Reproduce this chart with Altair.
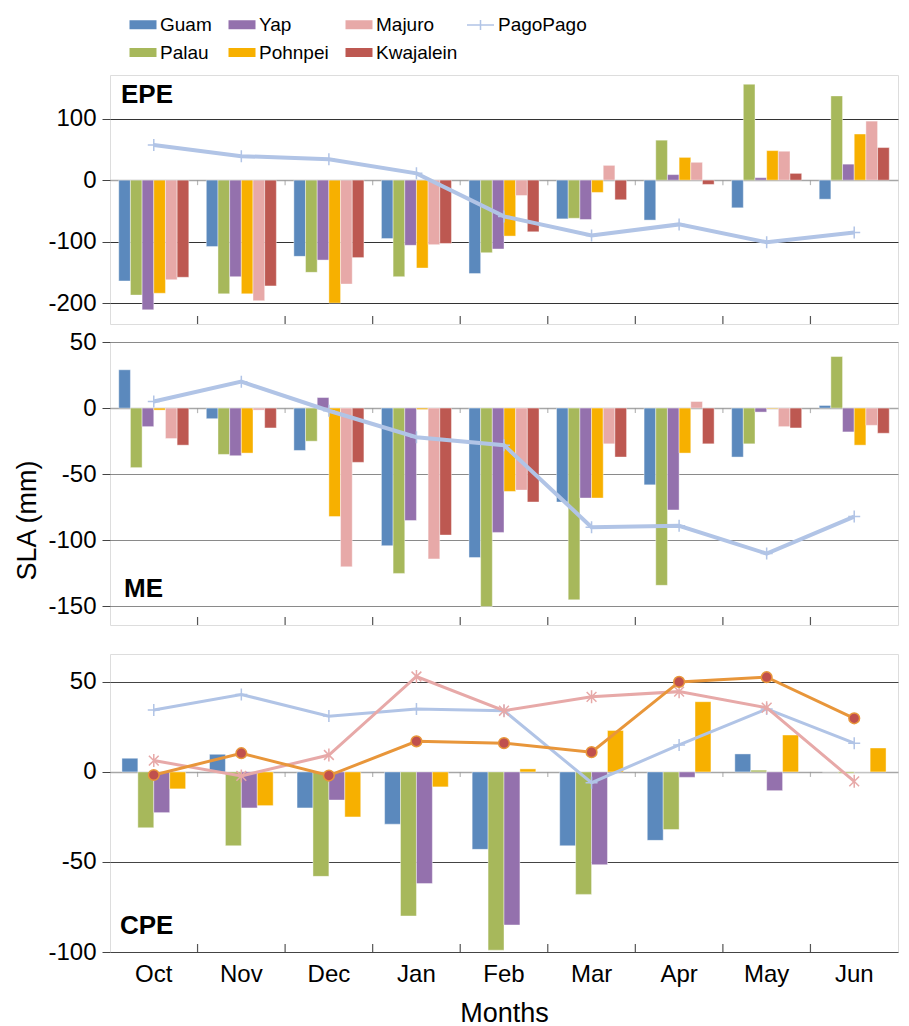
import altair as alt
import pandas as pd

months = ["Oct", "Nov", "Dec", "Jan", "Feb", "Mar", "Apr", "May", "Jun"]

# ---- EPE ----
guam_epe = [-164, -108, -124, -95, -152, -63, -65, -45, -31]
palau_epe = [-187, -185, -150, -157, -118, -62, 65, 156, 137]
yap_epe = [-211, -157, -130, -106, -112, -64, 9, 4, 26]
pohnpei_epe = [-184, -185, -200, -143, -91, -20, 37, 48, 75]
majuro_epe = [-162, -196, -169, -105, -25, 24, 29, 47, 96]
kwaj_epe = [-158, -172, -126, -103, -84, -32, -7, 11, 53]
pago_epe = [57, 39, 34, 11, -59, -90, -72, -101, -85]

# ---- ME ----
guam_me = [29, -8, -32, -104, -113, -71, -58, -37, 2]
palau_me = [-45, -35, -25, -125, -150, -145, -134, -27, 39]
yap_me = [-14, -36, 8, -85, -94, -68, -77, -3, -18]
pohnpei_me = [-1.5, -34, -82, -1, -63, -68, -34, -0.5, -28]
majuro_me = [-23, -1.5, -120, -114, -62, -27, 5, -14, -13]
kwaj_me = [-28, -15, -41, -96, -71, -37, -27, -15, -19]
pago_me = [5, 20, -2, -22, -28, -90, -89, -110, -82]

# ---- CPE ----
guam_cpe = [7.6, 9.8, -20, -29, -43, -41, -38, 10, 0]
palau_cpe = [-31, -41, -58, -80, -99, -68, -32, 1, -0.7]
yap_cpe = [-22.6, -20, -15.6, -62, -85, -51.5, -3, -10.4, 0]
pohnpei_cpe = [-9.4, -18.7, -25, -8.3, 1.7, 23, 39, 20.5, 13.3]
pago_cpe = [34.4, 43, 31, 35, 34, -6, 15, 35, 16]
majuro_cpe = [6.3, -2.2, 9.4, 53, 34, 41.7, 44.6, 35.7, -5.2]
kwaj_cpe = [-1.7, 10.4, -2, 17, 16, 11, 50, 52.6, 29.8]

bar_order6 = ["Guam", "Palau", "Yap", "Pohnpei", "Majuro", "Kwajalein"]
bar_order4 = ["Guam", "Palau", "Yap", "Pohnpei"]
bar_colors = {"Guam": "#5B89BD", "Palau": "#A7B85B", "Yap": "#9471AD",
              "Pohnpei": "#F7B000", "Majuro": "#E7A9A8", "Kwajalein": "#BD5851"}
line_order = ["PagoPago", "Majuro", "Kwajalein"]
line_colors = ["#B1C4E6", "#E7A9A8", "#E8963A"]

FONT = "Liberation Sans"
W = 788
PLUS = "M-1,0H1M0,-1V1"
STAR = "M-0.75,-0.75L0.75,0.75M-0.75,0.75L0.75,-0.75M0,-1V1"


def to_df(d):
    rows = []
    for name, vals in d.items():
        for m, v in zip(months, vals):
            rows.append({"month": m, "station": name, "sla": v})
    return pd.DataFrame(rows)


def to_line_df(name, vals):
    return pd.DataFrame({"month": months, "lseries": name, "sla": vals})


fill_enc = alt.Fill(
    "station:N",
    scale=alt.Scale(domain=bar_order6, range=[bar_colors[s] for s in bar_order6]),
    legend=alt.Legend(title=None, orient="none", legendX=23.5, legendY=-60, columns=3,
                      symbolType="M-1.5,-0.5H1.5V0.5H-1.5Z", symbolSize=324,
                      symbolStrokeWidth=0, labelFontSize=19, labelFont=FONT,
                      labelColor="#000", columnPadding=16, rowPadding=8, labelOffset=7.5),
)
stroke_enc = alt.Stroke(
    "lseries:N",
    scale=alt.Scale(domain=line_order, range=line_colors),
    legend=alt.Legend(title=None, orient="none", legendX=360.5, legendY=-60,
                      values=["PagoPago"], symbolType="M-1.5,0H1.5M0,-0.55V0.55",
                      symbolSize=324, symbolStrokeWidth=1.5, labelFontSize=19,
                      labelFont=FONT, labelColor="#000", labelOffset=7.5),
)


def panel(bar_dict, order, line_specs, ydomain, yticks, height, label, lab_x, lab_y,
          grid_dark, bottom=False, ytitle=None, extra_gap=0):
    if bottom:
        xaxis = alt.Axis(title="Months", labelAngle=0, labelFontSize=24, titleFontSize=27,
                         titleFontWeight="normal", ticks=False, domain=False, labelPadding=10,
                         titlePadding=14, grid=False, labelColor="#000", titleColor="#000",
                         labelFont=FONT, titleFont=FONT)
    elif extra_gap:
        xaxis = alt.Axis(title=None, labels=False, ticks=True, tickSize=extra_gap,
                         tickOpacity=0, domain=False, grid=False)
    else:
        xaxis = None

    def xdef(**kw):
        return alt.X("month:N", sort=months,
                     scale=alt.Scale(domain=months, paddingInner=0, paddingOuter=0),
                     axis=xaxis, **kw)

    axis_kw = dict(values=yticks, labelExpr="'' + datum.value", labelFontSize=24,
                   labelColor="#000", labelFont=FONT, tickSize=8, tickColor="#444",
                   labelPadding=6, domain=False,
                   gridColor={"condition": {"test": "datum.value === 0", "value": "#a6a6a6"},
                              "value": grid_dark},
                   gridWidth={"condition": {"test": "datum.value === 0", "value": 1.6},
                              "value": 1.2})
    if ytitle:
        yaxis = alt.Axis(title=ytitle, titleFontSize=27, titleFontWeight="normal",
                         titleFont=FONT, titleColor="#000", titleY=178, titlePadding=6,
                         **axis_kw)
    else:
        yaxis = alt.Axis(title=None, **axis_kw)

    ydef = alt.Y("sla:Q", scale=alt.Scale(domain=ydomain, nice=False), axis=yaxis)

    bars = alt.Chart(to_df(bar_dict)).mark_bar(stroke="white", strokeWidth=0.6,
                                               strokeOpacity=0.7).encode(
        x=xdef(),
        xOffset=alt.XOffset("station:N", sort=order,
                            scale=alt.Scale(domain=order, paddingOuter=0.75, paddingInner=0)),
        y=ydef,
        y2=alt.datum(0),
        fill=fill_enc,
    )
    layers = [bars]
    for name, vals, kind, width in line_specs:
        df = to_line_df(name, vals)
        layers.append(alt.Chart(df).mark_line(strokeWidth=width).encode(
            x=xdef(), y=ydef, stroke=stroke_enc))
        if kind == "plus":
            pt = alt.Chart(df).mark_point(shape=PLUS, size=144, strokeWidth=1.5,
                                          filled=False, opacity=1)
        elif kind == "star":
            pt = alt.Chart(df).mark_point(shape=STAR, size=170, strokeWidth=1.5,
                                          filled=False, opacity=1)
        else:
            pt = alt.Chart(df).mark_point(shape="circle", size=115, strokeWidth=1.5,
                                          filled=True, fill="#C0504D", opacity=1)
        layers.append(pt.encode(x=xdef(), y=ydef, stroke=stroke_enc))

    bounds = pd.DataFrame({"month": months[1:]})
    layers.append(alt.Chart(bounds).mark_rule(color="#555", strokeWidth=1.2).encode(
        x=xdef(bandPosition=0), y=alt.value(height - 8), y2=alt.value(height)))
    layers.append(alt.Chart(bounds).mark_tick(color="#999", thickness=1.2, size=5,
                                              orient="vertical", yOffset=2.5).encode(
        x=xdef(bandPosition=0), y=alt.datum(0, type="quantitative")))

    lab = pd.DataFrame({"label": [label]})
    layers.append(alt.Chart(lab).mark_text(fontSize=26, fontWeight="bold", font=FONT,
                                           align="left", baseline="alphabetic",
                                           color="#000").encode(
        x=alt.value(lab_x), y=alt.value(lab_y), text="label:N"))

    return alt.layer(*layers).properties(width=W, height=height)


p1 = panel({"Guam": guam_epe, "Palau": palau_epe, "Yap": yap_epe, "Pohnpei": pohnpei_epe,
            "Majuro": majuro_epe, "Kwajalein": kwaj_epe}, bar_order6,
           [("PagoPago", pago_epe, "plus", 4)], [-234, 171], [-200, -100, 0, 100], 249,
           "EPE", 11, 28, "#333333")
p2 = panel({"Guam": guam_me, "Palau": palau_me, "Yap": yap_me, "Pohnpei": pohnpei_me,
            "Majuro": majuro_me, "Kwajalein": kwaj_me}, bar_order6,
           [("PagoPago", pago_me, "plus", 4)], [-164, 50], [-150, -100, -50, 0, 50], 283,
           "ME", 14, 255, "#8a8a8a", ytitle="SLA  (mm)", extra_gap=24)
p3 = panel({"Guam": guam_cpe, "Palau": palau_cpe, "Yap": yap_cpe, "Pohnpei": pohnpei_cpe},
           bar_order4,
           [("PagoPago", pago_cpe, "plus", 3), ("Majuro", majuro_cpe, "star", 3),
            ("Kwajalein", kwaj_cpe, "circle", 3)],
           [-100, 65.5], [-100, -50, 0, 50], 298, "CPE", 10, 280, "#444444", bottom=True)

chart = alt.vconcat(p1, p2, p3, spacing=3).resolve_scale(
    x="independent", y="independent", xOffset="independent"
).properties(
    padding={"left": 5, "right": 0, "top": 7, "bottom": 0}
).configure_view(stroke="#404040", strokeWidth=1.5).configure(font=FONT)

chart.save("out.html", embed_options={"renderer": "svg", "actions": False})
